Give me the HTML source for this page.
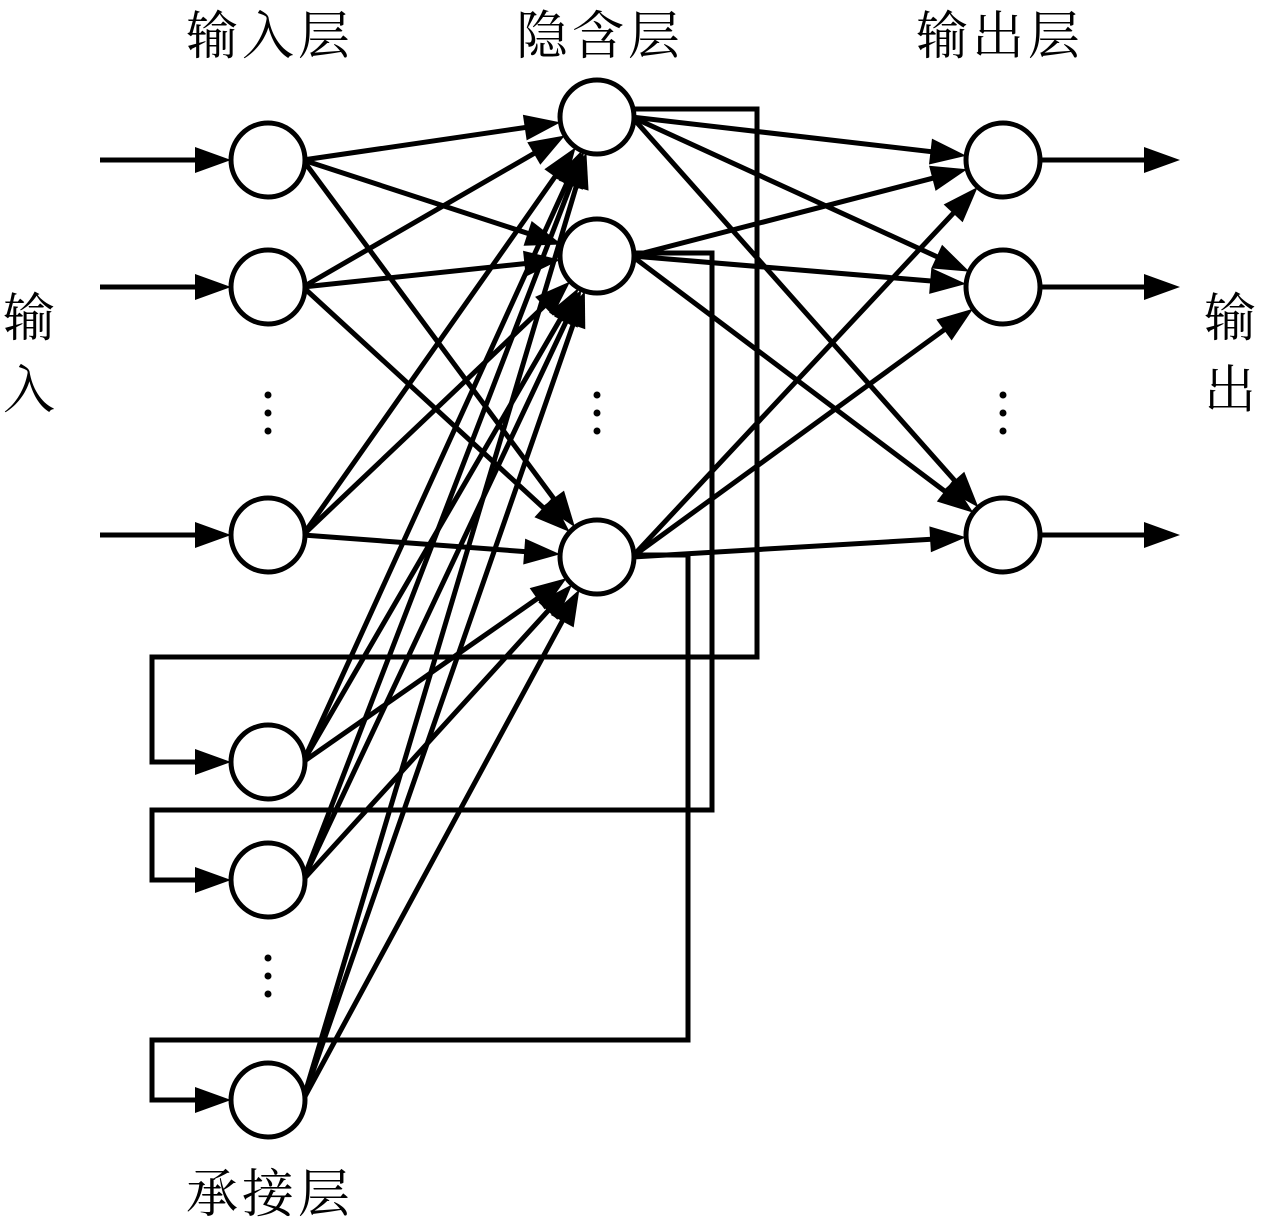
<!DOCTYPE html>
<html><head><meta charset="utf-8"><style>
html,body{margin:0;padding:0;background:#fff;}
svg{display:block;}
text{font-family:"Liberation Serif","Noto Serif CJK SC",serif;font-size:52px;fill:#000;letter-spacing:4px;}
</style></head><body>
<svg id="s" width="1262" height="1220" viewBox="0 0 1262 1220" xmlns="http://www.w3.org/2000/svg">
<g id="g" stroke="#000" stroke-width="5" fill="none"></g>
<text x="186" y="54">输入层</text>
<text x="516" y="54">隐含层</text>
<text x="916" y="54">输出层</text>
<text x="186" y="1212">承接层</text>
<text x="3" y="336">输</text>
<text x="3" y="408">入</text>
<text x="1204" y="336">输</text>
<text x="1204" y="408">出</text>
</svg>
<script>
var g=document.getElementById('g'),NS='http://www.w3.org/2000/svg';
function el(t,a){var e=document.createElementNS(NS,t);for(var k in a)e.setAttribute(k,a[k]);g.appendChild(e);return e;}
var R=37;
var inp=[[268,160],[268,287],[268,535]],hid=[[597,117],[597,256],[597,557]],out=[[1003,160],[1003,287],[1003,535]],ctx=[[268,762],[268,880],[268,1100]];
function arrowHead(x,y,dx,dy){var L=36,W=13;var px=-dy,py=dx;
el('polygon',{points:x+','+y+' '+(x-dx*L+px*W)+','+(y-dy*L+py*W)+' '+(x-dx*L-px*W)+','+(y-dy*L-py*W),fill:'#000',stroke:'none'});}
function edge(a,b){var sx=a[0]+R-2,sy=a[1];var dx=b[0]-sx,dy=b[1]-sy,d=Math.hypot(dx,dy);dx/=d;dy/=d;
var x2=b[0]-dx*R,y2=b[1]-dy*R;
el('line',{x1:sx,y1:sy,x2:x2-dx*20,y2:y2-dy*20});arrowHead(x2,y2,dx,dy);}
function harrow(x1,x2,y){el('line',{x1:x1,y1:y,x2:x2-20,y2:y});arrowHead(x2,y,1,0);}
inp.forEach(function(a){hid.forEach(function(b){edge(a,b);});});
ctx.forEach(function(a){hid.forEach(function(b){edge(a,b);});});
hid.forEach(function(a){out.forEach(function(b){edge(a,b);});});
inp.forEach(function(a){harrow(100,a[0]-R,a[1]);});
out.forEach(function(a){harrow(a[0]+R,1180,a[1]);});
var fb=[[109,757,657,762],[253,712,810,880],[555,688,1040,1100]];
fb.forEach(function(f,i){el('polyline',{points:(632)+','+f[0]+' '+f[1]+','+f[0]+' '+f[1]+','+f[2]+' 152,'+f[2]+' 152,'+f[3]+' 211,'+f[3]});arrowHead(231,f[3],1,0);});
[].concat(inp,hid,out,ctx).forEach(function(c){el('circle',{cx:c[0],cy:c[1],r:R,fill:'#fff'});});
[[268,395],[597,395],[1003,395],[268,958]].forEach(function(p){for(var i=0;i<3;i++)el('circle',{cx:p[0],cy:p[1]+i*18,r:3.5,fill:'#000',stroke:'none'});});
</script>
</body></html>
